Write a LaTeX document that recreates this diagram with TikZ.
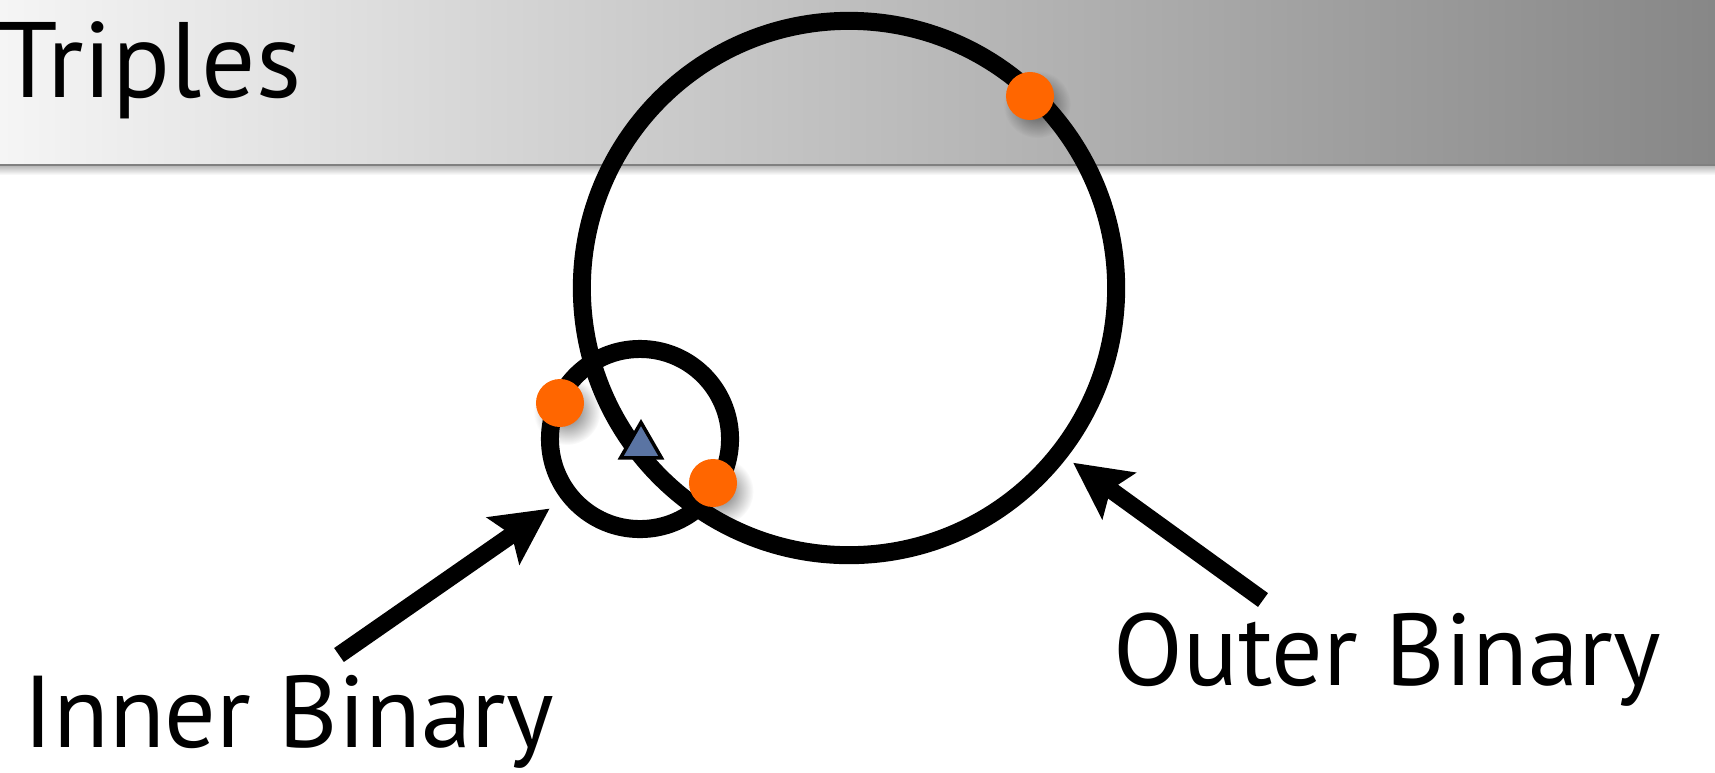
\documentclass[tikz,border=0pt]{standalone}
\usepackage{fontspec}
\setmainfont{PT Sans}
\usetikzlibrary{arrows.meta, shapes.geometric, shadows, fadings}
\definecolor{naranja}{HTML}{FF6600}
\definecolor{acero}{HTML}{5A74A3}
\definecolor{cabecera}{HTML}{F5F5F5}
\definecolor{cabeceramedia}{HTML}{D6D6D6}
\definecolor{cabecerafin}{HTML}{878787}
\tikzfading[name=difuso, inner color=transparent!20, outer color=transparent!100]

\begin{document}
\begin{tikzpicture}[x=0.01cm, y=-0.01cm, font=\fontsize{29}{34}\selectfont,
    orbita/.style={circle, draw, line width=0.18cm, inner sep=0pt},
    estrella/.style={circle, fill=naranja, minimum size=0.48cm, inner sep=0pt,
      drop shadow={shadow xshift=0.05cm, shadow yshift=-0.06cm, shadow scale=1.4,
                   fill=black, opacity=0.75, path fading=difuso}},
    rotulo/.style={anchor=base west, inner sep=0pt},
    flecha/.style={line width=0.17cm, -{Stealth[length=0.56cm, width=0.56cm, inset=0.1cm]}}]
	\useasboundingbox (0,0) rectangle (1715,772);
	% franja de la cabecera
	\shade[left color=cabecera, middle color=cabeceramedia, right color=cabecerafin]
		(0,0) rectangle (1715,167);
	\shade[top color=black!30, bottom color=white] (0,165) rectangle (1715,175);
	\draw[black!50, line width=0.015cm] (0,165) -- (1715,165);
	\node[rotulo, font=\fontsize{30.5}{36}\selectfont] (titulo) at (-2,97) {Triples};
	% las dos orbitas
	\node[orbita, minimum size=5.34cm] (exterior) at (849,288) {};
	\node[orbita, minimum size=1.80cm] (interior) at (640,439) {};
	\node[regular polygon, regular polygon sides=3, fill=acero, draw, line width=0.035cm,
	      minimum size=0.47cm, inner sep=0pt] (centro) at (641,446) {};
	\foreach \n/\x/\y in {a/560/403, b/713/483, c/1030/96} {
		\node[estrella] (estrella-\n) at (\x,\y) {};
	}
	% rotulos y flechas
	\node[rotulo] (etiqint) at (23,747) {Inner Binary};
	\node[rotulo] (etiqext) at (1113,685) {Outer Binary};
	\coordinate (colaint) at (339,655);
	\coordinate (colaext) at (1263,600);
	\draw[flecha, shorten >=0.15cm] (colaint) -- (interior.218);
	\draw[flecha, shorten >=0.08cm] (colaext) -- (exterior.-38);
\end{tikzpicture}
\end{document}
